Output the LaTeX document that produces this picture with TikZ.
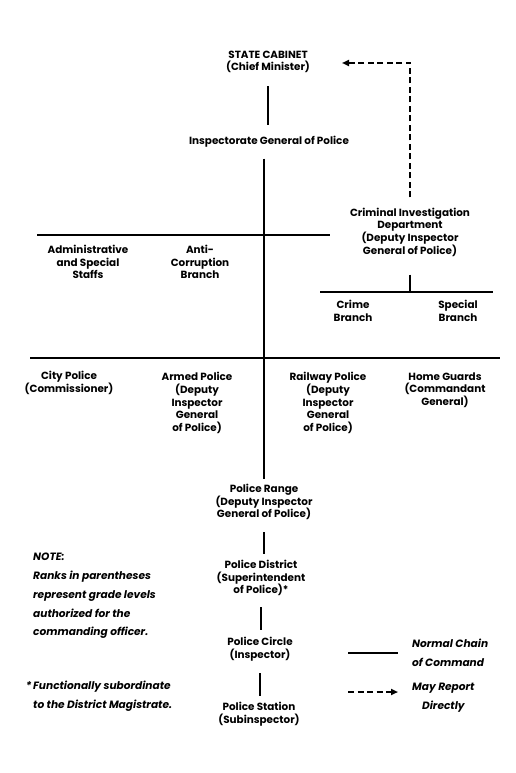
\documentclass[tikz,border=0pt]{standalone}
\usepackage{fontspec}
\setmainfont{Poppins}
\usetikzlibrary{positioning, arrows.meta}
\newcommand{\unitfont}{\fontsize{10.4}{12.7}\selectfont\bfseries}
\newcommand{\notefont}{\fontsize{10.6}{18.8}\selectfont\bfseries\itshape}

\begin{document}
\begin{tikzpicture}[x = 1pt, y = -1pt,
  unit/.style = {align = center, font = \unitfont, inner sep = 0pt},
  note/.style = {align = left, font = \notefont, inner sep = 0pt},
  chain/.style = {line width = 2.8pt},
  bar/.style = {line width = 2.2pt},
  report/.style = {line width = 2.4pt, dash pattern = on 6pt off 3.5pt, -{Triangle[length = 7pt, width = 6pt]}}]
  \useasboundingbox (0,0) rectangle (516,773);

  % nodes
  \node [unit] (cabinet) at (268,62) {STATE CABINET\\(Chief Minister)};
  \node [unit] (igp) at (269,142) {Inspectorate General of Police};
  \node [unit] (cid) at (410,232) {Criminal Investigation\\Department\\(Deputy Inspector\\General of Police)};

  \node [unit] (admin) at (88,262) {Administrative\\and Special\\Staffs};
  \node [unit] (anticorr) at (200,262) {Anti-\\Corruption\\Branch};
  \node [unit] (crime) at (353,311) {Crime\\Branch};
  \node [unit] (special) at (458,311) {Special\\Branch};

  \node [unit] (city) at (69,383) {City Police\\(Commissioner)};
  \node [unit] (armed) at (197,403) {Armed Police\\(Deputy\\Inspector\\General\\of Police)};
  \node [unit] (railway) at (328,403) {Railway Police\\(Deputy\\Inspector\\General\\of Police)};
  \node [unit] (home) at (445,390) {Home Guards\\(Commandant\\General)};

  \node [unit] (range) at (264,502) {Police Range\\(Deputy Inspector\\General of Police)};
  \node [unit] (district) at (261,578) {Police District\\(Superintendent\\of Police)*};
  \node [unit] (circle) at (260,649) {Police Circle\\(Inspector)};
  \node [unit] (station) at (259,714) {Police Station\\(Subinspector)};

  % notes and legend
  \node [note, anchor = north west] (note) at (33,553) {NOTE:\\Ranks in parentheses\\represent grade levels\\authorized for the\\commanding officer.};
  \node [note, anchor = north west] (footnote) at (33,681) {\llap{*\,}Functionally subordinate\\to the District Magistrate.};

  \coordinate (solid-a) at (348,653);
  \coordinate (solid-b) at (398,653);
  \node [note, anchor = west] (normal) at (412,653) {Normal Chain\\of Command};
  \coordinate (dash-a) at (348,692);
  \coordinate (dash-b) at (398,692);
  \node [note, align = center, anchor = west] (mayreport) at (412,698) {May Report\\Directly};

  % bars
  \coordinate (bar1-w) at (37,235);
  \coordinate (bar1-e) at (330,235);
  \coordinate (cidbar-w) at (320,292);
  \coordinate (cidbar-e) at (493,292);
  \coordinate (bar2-w) at (30,358);
  \coordinate (bar2-e) at (500,358);
  \coordinate (report-end) at (342,63);

  % edges
  \draw [chain, shorten <= 13pt, shorten >= 11pt] (cabinet.south) -- (cabinet.south |- igp.north);
  \draw [chain, shorten <= 11pt, shorten >= 5pt] (igp.south -| range.north) -- (range.north);
  \draw [bar] (bar1-w) -- (bar1-e);
  \draw [bar] (bar2-w) -- (bar2-e);
  \draw [bar] (cidbar-w) -- (cidbar-e);
  \draw [chain, shorten <= 18pt] (cid.south) -- (cid.south |- cidbar-w);
  \draw [report, shorten <= 10pt] (cid.north) |- (report-end);

  \draw [chain, shorten <= 12pt, shorten >= 6pt] (range.south) -- (range.south |- district.north);
  \draw [chain, shorten <= 11pt, shorten >= 7pt] (district.south) -- (district.south |- circle.north);
  \draw [chain, shorten <= 12pt, shorten >= 6pt] (circle.south) -- (circle.south |- station.north);

  % legend
  \draw [chain] (solid-a) -- (solid-b);
  \draw [report] (dash-a) -- (dash-b);
\end{tikzpicture}
\end{document}
